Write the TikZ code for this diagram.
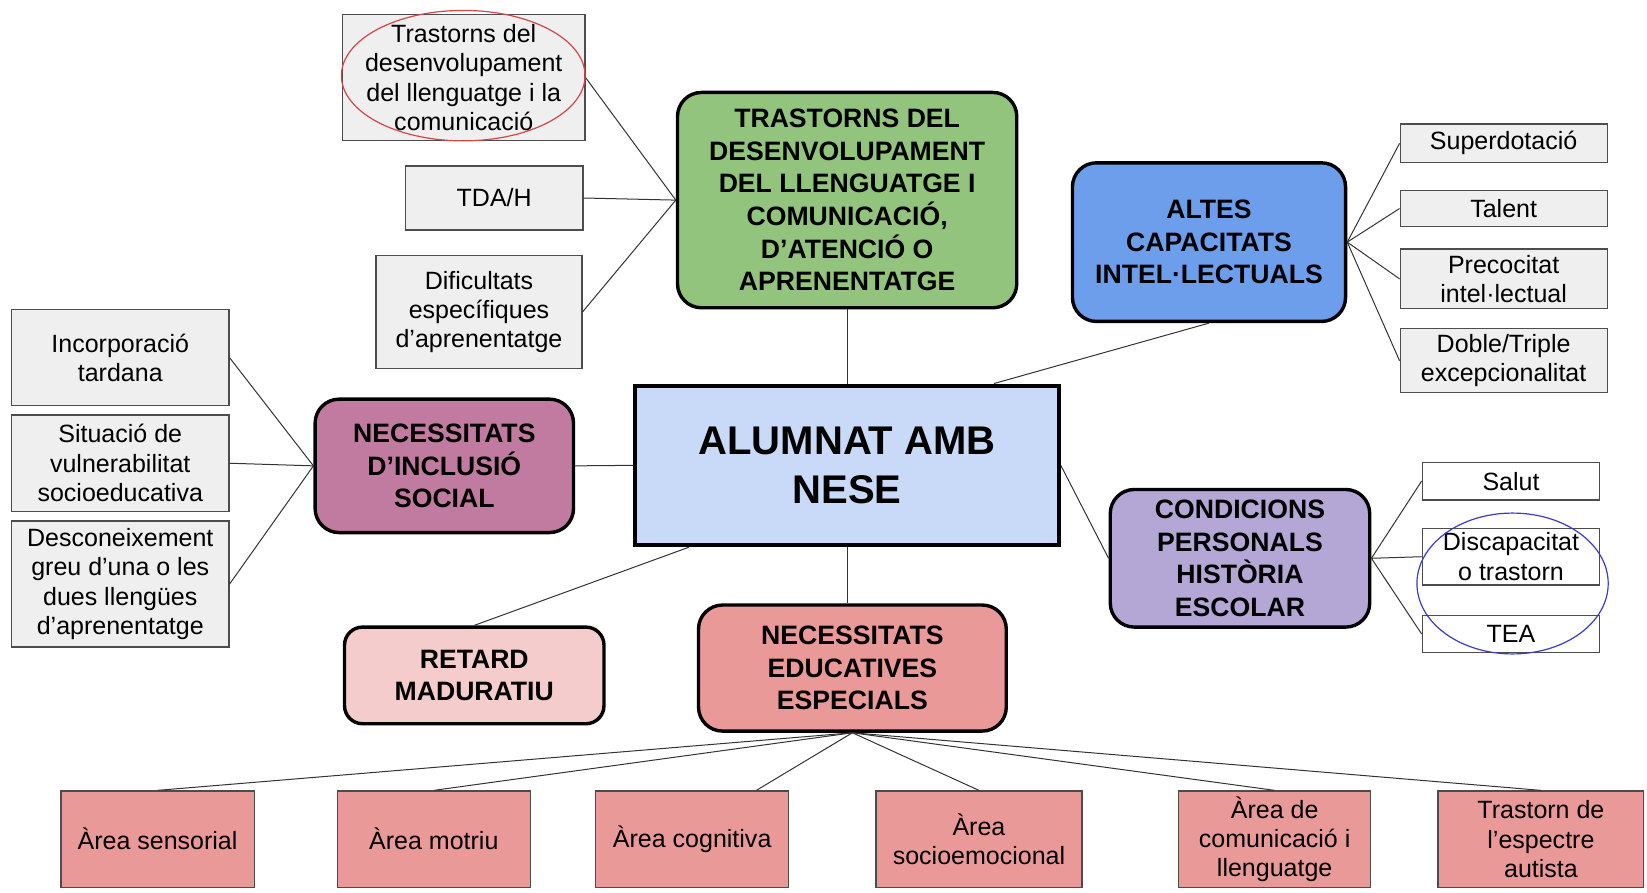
\documentclass[tikz,border=0pt]{standalone}
\usepackage{fontspec}
\setmainfont{Liberation Sans}
\usetikzlibrary{calc}
\definecolor{grisbox}{HTML}{EFEFEF}
\definecolor{verd}{HTML}{93C47D}
\definecolor{blau}{HTML}{6D9EEB}
\definecolor{central}{HTML}{C9DAF8}
\definecolor{magenta}{HTML}{C27BA0}
\definecolor{lila}{HTML}{B4A7D6}
\definecolor{rosaclar}{HTML}{F4CCCC}
\definecolor{rosanee}{HTML}{EA9999}
\definecolor{vermell}{HTML}{D64545}
\definecolor{marcblau}{HTML}{3B3BC4}

\begin{document}
\begin{tikzpicture}[x=0.525pt, y=-0.525pt,
	wh/.style 2 args={minimum width=#1*0.525pt, minimum height=#2*0.525pt},
	fulla/.style={draw=black!70, line width=0.6pt, fill=grisbox, inner sep=0pt, align=center, font=\fontsize{12.5}{14.7}\selectfont},
	blanca/.style={fulla, fill=white},
	area/.style={fulla, fill=rosanee},
	titol/.style={draw=black, line width=1.7pt, rounded corners=12pt, inner sep=0pt, align=center, font=\fontsize{13.3}{16.3}\selectfont\bfseries},
	lnk/.style={draw=black!80, line width=0.5pt}]
		\useasboundingbox (0,0) rectangle (1568,850);
		
		\node[titol, fill=verd, wh={323}{205}] (trast) at (806.5,190.5) {TRASTORNS DEL\\DESENVOLUPAMENT\\DEL LLENGUATGE I\\COMUNICACIÓ,\\D’ATENCIÓ O\\APRENENTATGE};
		\node[fulla, wh={231}{120}] (tdl) at (441.5,74) {Trastorns del\\desenvolupament\\del llenguatge i la\\comunicació};
		\node[fulla, wh={169}{61}] (tdah) at (470.5,188.5) {TDA/H};
		\node[fulla, wh={196}{108}] (dea) at (456,297) {Dificultats\\específiques\\d’aprenentatge};
		\draw[lnk] (tdl.east) -- (trast.west); \draw[lnk] (tdah.east) -- (trast.west); \draw[lnk] (dea.east) -- (trast.west);
		\draw[vermell, line width=0.6pt] (441,72) ellipse [x radius=60.9pt, y radius=32.6pt];
		
		\node[titol, fill=blau, wh={260}{151}] (altes) at (1151,230.5) {ALTES\\CAPACITATS\\INTEL·LECTUALS};
		\node[fulla, wh={197}{37}] (sup) at (1431.5,136.5) {Superdotació};
		\node[fulla, wh={197}{35}] (tal) at (1431.5,198.5) {Talent};
		\node[fulla, wh={197}{57}] (pre) at (1431.5,265.5) {Precocitat\\intel·lectual};
		\node[fulla, wh={197}{61}] (dob) at (1431.5,343.5) {Doble/Triple\\excepcionalitat};
		\foreach \f in {sup,tal,pre,dob} \draw[lnk] (altes.east) -- (\f.west);
		
		\node[draw=black, line width=2pt, fill=central, inner sep=0pt, align=center, font=\fontsize{20}{24.7}\selectfont\bfseries, wh={403}{152}] (centre) at (806.5,443) {ALUMNAT AMB\\NESE};
		\draw[lnk] (trast.south) -- (centre.north);
		\draw[lnk] (altes.south) -- ($(centre.north west)!0.844!(centre.north east)$);
		
		\node[titol, fill=magenta, wh={246}{127}] (incl) at (423,443.5) {NECESSITATS\\D’INCLUSIÓ\\SOCIAL};
		\node[fulla, wh={207}{91}] (inc) at (114.5,340.5) {Incorporació\\tardana};
		\node[fulla, wh={207}{92}] (sit) at (114.5,441) {Situació de\\vulnerabilitat\\socioeducativa};
		\node[fulla, wh={207}{120}] (des) at (114.5,556) {Desconeixement\\greu d’una o les\\dues llengües\\d’aprenentatge};
		\foreach \f in {inc,sit,des} \draw[lnk] (\f.east) -- (incl.west);
		\draw[lnk] (incl.east) -- (centre.west);
		
		\node[titol, fill=lila, wh={247}{131}] (cond) at (1180.5,531.5) {CONDICIONS\\PERSONALS\\HISTÒRIA\\ESCOLAR};
		\node[blanca, wh={169}{36}] (sal) at (1438.5,458) {Salut};
		\node[blanca, wh={169}{54}] (dis) at (1438.5,530) {Discapacitat\\o trastorn};
		\node[blanca, wh={169}{35}] (tea) at (1438.5,603.5) {TEA};
		\foreach \f in {sal,dis,tea} \draw[lnk] (cond.east) -- (\f.west);
		\draw[lnk] (centre.east) -- (cond.west);
		\draw[marcblau, line width=0.6pt] (1440,555.5) ellipse [x radius=47.8pt, y radius=35.2pt];
		
		\node[titol, fill=rosaclar, rounded corners=9pt, wh={247}{92}] (retard) at (451.5,643) {RETARD\\MADURATIU};
		\node[titol, fill=rosanee, wh={293}{120}] (nee) at (811.5,636) {NECESSITATS\\EDUCATIVES\\ESPECIALS};
		\draw[lnk] ($(centre.south west)!0.13!(centre.south east)$) -- (retard.north);
		\draw[lnk] (centre.south) -- (centre.south |- nee.north);
		
		\node[area, wh={184}{92}] (sen) at (150,799) {Àrea sensorial};
		\node[area, wh={184}{92}] (mot) at (413,799) {Àrea motriu};
		\node[area, wh={184}{92}] (cog) at (659,799) {Àrea cognitiva};
		\node[area, wh={196}{92}] (soc) at (932,799) {Àrea\\socioemocional};
		\node[area, wh={183}{92}] (com) at (1213.5,799) {Àrea de\\comunicació i\\llenguatge};
		\node[area, wh={196}{92}] (aut) at (1467,799) {Trastorn de\\l’espectre\\autista};
		\foreach \f in {sen,mot,soc,com,aut} \draw[lnk] (nee.south) -- (\f.north);
		\draw[lnk] (nee.south) -- ($(cog.north)!0.66!(cog.north east)$);
	\end{tikzpicture}
\end{document}
